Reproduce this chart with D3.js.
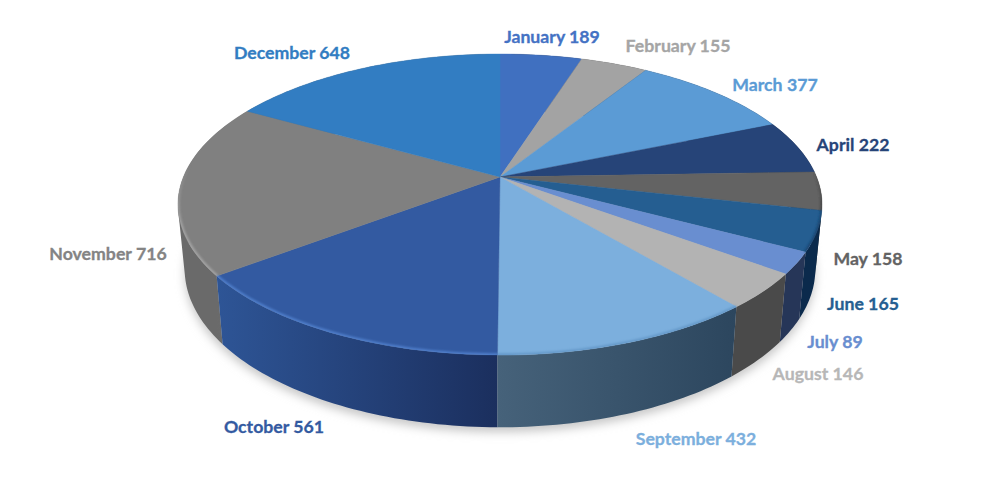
<!DOCTYPE html>
<html>
<head>
<meta charset="utf-8">
<script src="https://cdn.jsdelivr.net/npm/d3@7/dist/d3.min.js"></script>
<style>
html,body{margin:0;padding:0;background:#fff}
svg{display:block}
text{font-family:Lato,"Open Sans",sans-serif;font-weight:700;font-size:17.7px;stroke-width:0.3px}
</style>
</head>
<body>
<svg id="c" width="1000" height="500"></svg>
<script>
const months = ["January","February","March","April","May","June","July","August","September","October","November","December"];
const values = [189,155,377,222,158,165,89,146,432,561,716,648];
const topColors = ["#4070C0","#A3A3A3","#5B9BD5","#264478","#636363","#255E91","#698ED0","#B3B3B3","#7CAFDD","#335AA1","#808080","#327DC2"];
const labelColors = ["#4472C4","#A5A5A5","#5B9BD5","#264478","#636363","#255E91","#698ED0","#B7B7B7","#7CAFDD","#335AA1","#848484","#327DC2"];
const sideLeft = ["#333","#333","#333","#333","#333","#0B2A4C","#263658","#4A4A4A","#46627A","#2E5596","#6A6A6A","#666"];
const sideRight = ["#333","#333","#333","#333","#333","#0B2A4C","#263658","#4A4A4A","#2C465E","#1B2F5E","#707070","#666"];
const rimColors = [null,null,null,null,"#333","#16406a",null,null,"#5f93c4","#5588d6","#adadad",null];
const labelX = [552,678,775,853,868,863,835,818,696,274,108,292];
const labelY = [36,45,84,144,258,303,341,373,438,426,253,52];

const svg = d3.select("#c"), defs = svg.append("defs");
const persp = 0.183;
const xTop = d3.scaleLinear().domain([-1,1]).range([500-316.6,500+316.6]);
const yTop = d3.scaleLinear().domain([-1,1]).range([177+145.5,177-145.5]);
const xBot = d3.scaleLinear().domain([-1,1]).range([500-310,500+310]);
const yBot = d3.scaleLinear().domain([-1,1]).range([240+153,240-153]);
const proj = (t,xs,ys)=>{
  const u=Math.sin(t), v=Math.cos(t), w=1+persp*v;
  return [xs(u/w), ys(v/w)];
};
const topPt = t=>proj(t,xTop,yTop), botPt = t=>proj(t,xBot,yBot);
const arcs = d3.pie().sort(null).value(d=>d)(values);
const steps = (a,b)=>{const n=Math.max(2,Math.ceil((b-a)/0.02));return d3.range(n+1).map(i=>a+(b-a)*i/n);};
const line = d3.line();

const blur = (id,s)=>defs.append("filter").attr("id",id).attr("x","-10%").attr("y","-10%").attr("width","120%").attr("height","120%")
  .append("feGaussianBlur").attr("stdDeviation",s);
blur("shadow",5); blur("rim",1);

// shadow under the pie
svg.append("path")
  .attr("d",line(steps(0,2*Math.PI).map(t=>{const p=botPt(t);return [p[0],p[1]+5];}))+"Z")
  .attr("fill","#c8c8c8").attr("filter","url(#shadow)");

// side walls, back to front; one path of same-wound quads so no seams show
const wallOrder = arcs.map((a,i)=>i).sort((p,q)=>
  Math.abs(Math.PI-(arcs[q].startAngle+arcs[q].endAngle)/2)-Math.abs(Math.PI-(arcs[p].startAngle+arcs[p].endAngle)/2));
wallOrder.forEach(i=>{
  const a=arcs[i], ts=steps(a.startAngle,a.endAngle);
  const x0=topPt(a.startAngle)[0], x1=topPt(a.endAngle)[0];
  const g=defs.append("linearGradient").attr("id","side"+i).attr("gradientUnits","userSpaceOnUse")
    .attr("x1",Math.min(x0,x1)).attr("x2",Math.max(x0,x1)).attr("y1",0).attr("y2",0);
  g.append("stop").attr("offset",0).attr("stop-color",sideLeft[i]);
  g.append("stop").attr("offset",1).attr("stop-color",sideRight[i]);
  const d=d3.pairs(ts).map(([s,e])=>{
    const q=[topPt(s),topPt(e),botPt(e),botPt(s)];
    return line(d3.polygonArea(q)<0?q.reverse():q)+"Z";
  }).join("");
  svg.append("path").attr("d",d).attr("fill",`url(#side${i})`);
});

// top faces
const centre = [xTop(0),yTop(0)];
const clip = defs.append("clipPath").attr("id","disc");
clip.append("path").attr("d",line(steps(0,2*Math.PI).map(topPt))+"Z");
arcs.forEach((a,i)=>{
  const pts=[centre].concat(steps(a.startAngle,a.endAngle).map(topPt));
  svg.append("path").attr("d",line(pts)+"Z").attr("fill",topColors[i]).attr("stroke",topColors[i]).attr("stroke-width",0.4);
});

// bevel along the rim: fades out towards the back of the disc
const rimG = svg.append("g").attr("clip-path","url(#disc)");
arcs.forEach((a,i)=>{
  if(!rimColors[i]) return;
  const g=defs.append("linearGradient").attr("id","rimFade"+i).attr("gradientUnits","userSpaceOnUse")
    .attr("x1",0).attr("x2",0).attr("y1",165).attr("y2",225);
  g.append("stop").attr("offset",0).attr("stop-color",rimColors[i]).attr("stop-opacity",0);
  g.append("stop").attr("offset",1).attr("stop-color",rimColors[i]).attr("stop-opacity",0.8);
  rimG.append("path").attr("d",line(steps(a.startAngle,a.endAngle).map(topPt)))
    .attr("fill","none").attr("stroke",`url(#rimFade${i})`).attr("stroke-width",3.5).attr("filter","url(#rim)");
});

// labels
svg.append("g").selectAll("text").data(months).join("text")
  .attr("x",(d,i)=>labelX[i]).attr("y",(d,i)=>labelY[i])
  .attr("text-anchor","middle").attr("dominant-baseline","central")
  .attr("fill",(d,i)=>labelColors[i]).attr("stroke",(d,i)=>labelColors[i])
  .text((d,i)=>`${d} ${values[i]}`);
</script>
</body>
</html>
